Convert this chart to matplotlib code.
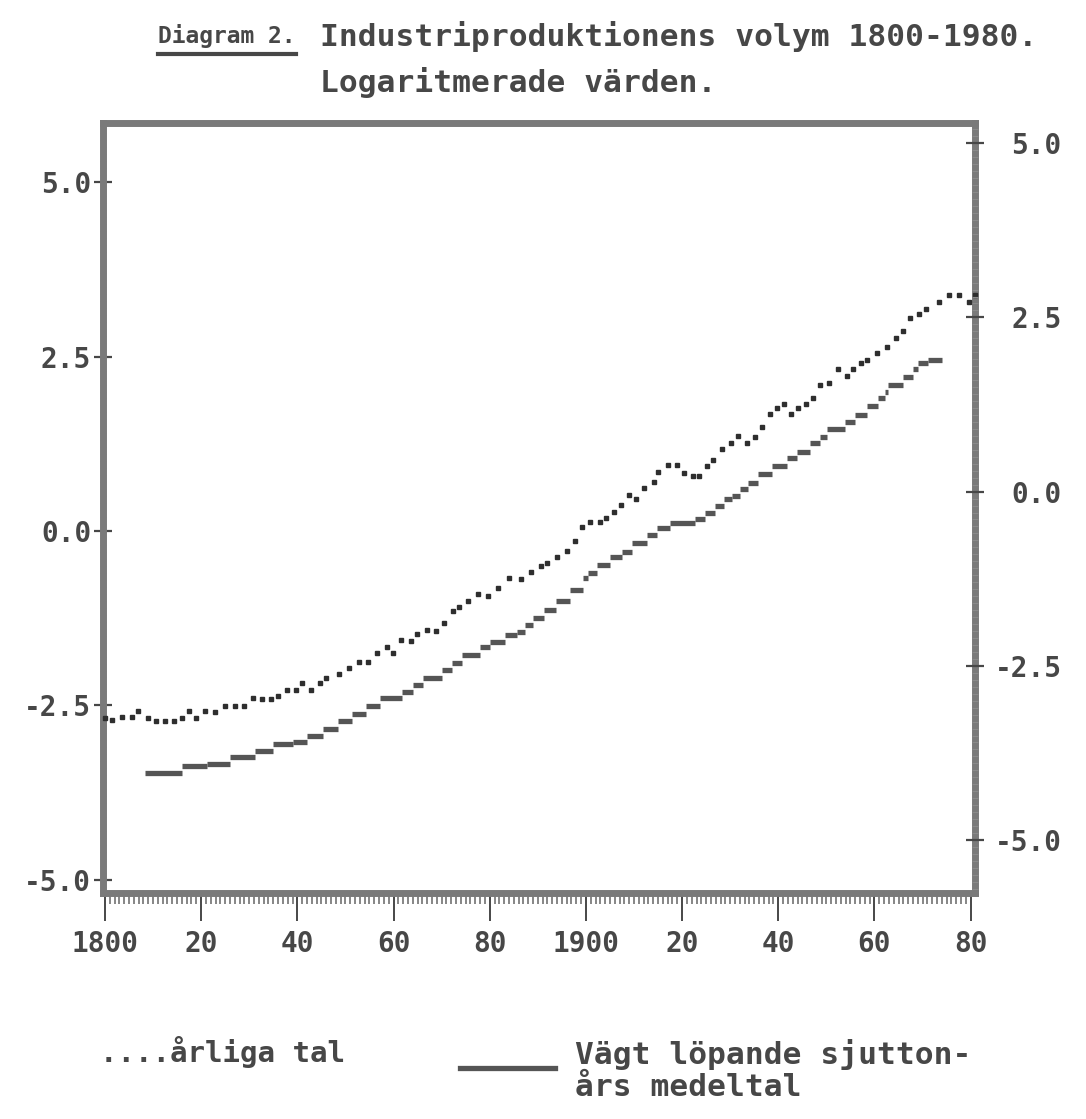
import matplotlib
matplotlib.use("Agg")
import matplotlib.pyplot as plt
from matplotlib.lines import Line2D
from matplotlib.ticker import FixedLocator, MultipleLocator

# Annual figures (dotted series), log values
years = [1800.0, 1801.5, 1803.5, 1805.6, 1806.9, 1808.9, 1810.6, 1812.5, 1814.3, 1816.0,
         1817.5, 1818.9, 1820.8, 1822.9, 1824.9, 1827.0, 1828.9, 1830.8, 1832.6, 1834.5,
         1836.0, 1837.8, 1839.7, 1841.0, 1842.8, 1844.7, 1845.9, 1848.6, 1850.7, 1852.8,
         1854.7, 1856.5, 1858.6, 1859.9, 1861.5, 1863.6, 1864.9, 1866.9, 1868.8, 1870.5,
         1872.3, 1873.6, 1875.5, 1877.5, 1879.6, 1881.7, 1884.0, 1886.5, 1888.6, 1890.6,
         1891.9, 1894.0, 1896.0, 1897.7, 1899.2, 1900.8, 1902.9, 1904.2, 1905.8, 1907.3,
         1908.9, 1910.4, 1912.1, 1914.1, 1915.0, 1917.0, 1918.9, 1920.4, 1922.2, 1923.5,
         1925.2, 1926.4, 1928.3, 1930.1, 1931.6, 1933.5, 1935.1, 1936.6, 1938.3, 1939.7,
         1941.2, 1942.6, 1944.1, 1945.7, 1947.2, 1948.6, 1950.5, 1952.4, 1954.3, 1955.5,
         1957.2, 1958.4, 1960.5, 1962.6, 1964.5, 1965.9, 1967.4, 1969.2, 1970.7, 1973.4,
         1975.5, 1977.5, 1979.6, 1980.9]
annual = [-2.68, -2.71, -2.66, -2.66, -2.58, -2.68, -2.72, -2.72, -2.72, -2.68,
          -2.58, -2.68, -2.58, -2.59, -2.51, -2.51, -2.51, -2.39, -2.41, -2.41,
          -2.36, -2.28, -2.28, -2.18, -2.28, -2.18, -2.11, -2.05, -1.96, -1.88,
          -1.88, -1.75, -1.66, -1.75, -1.56, -1.58, -1.48, -1.42, -1.43, -1.32,
          -1.15, -1.09, -1.00, -0.90, -0.93, -0.82, -0.67, -0.69, -0.59, -0.50,
          -0.46, -0.37, -0.29, -0.14, 0.06, 0.13, 0.13, 0.19, 0.27, 0.37,
          0.52, 0.46, 0.62, 0.70, 0.85, 0.95, 0.95, 0.83, 0.79, 0.79,
          0.93, 1.02, 1.18, 1.26, 1.36, 1.26, 1.35, 1.49, 1.68, 1.76,
          1.82, 1.68, 1.76, 1.82, 1.91, 2.09, 2.12, 2.32, 2.22, 2.32,
          2.41, 2.45, 2.55, 2.64, 2.77, 2.87, 3.05, 3.11, 3.19, 3.28,
          3.38, 3.38, 3.28, 3.38]

# Weighted 17-year moving average, printed as steps (step edges + level)
ma_edges = [1808.3, 1816.0, 1821.2, 1826.0, 1831.2, 1834.9, 1839.1, 1842.0, 1845.3, 1848.4,
            1851.4, 1854.3, 1857.2, 1861.7, 1864.0, 1866.1, 1870.1, 1872.1, 1874.2, 1878.0,
            1880.0, 1883.2, 1885.7, 1887.3, 1889.0, 1891.3, 1893.8, 1896.7, 1899.4, 1900.4,
            1902.3, 1905.0, 1907.5, 1909.6, 1912.7, 1914.8, 1917.5, 1922.7, 1924.7, 1926.8,
            1928.7, 1930.4, 1932.0, 1933.7, 1935.8, 1938.7, 1941.8, 1943.9, 1946.6, 1948.6,
            1950.1, 1953.8, 1955.9, 1958.4, 1960.7, 1962.2, 1962.8, 1965.9, 1968.0, 1969.0,
            1971.1, 1974.0]
ma_values = [-3.47, -3.37, -3.34, -3.24, -3.15, -3.05, -3.02, -2.94, -2.84, -2.72,
             -2.62, -2.51, -2.39, -2.31, -2.21, -2.11, -1.99, -1.89, -1.78, -1.66,
             -1.59, -1.49, -1.45, -1.35, -1.25, -1.13, -1.00, -0.85, -0.67, -0.60,
             -0.49, -0.37, -0.30, -0.17, -0.06, 0.04, 0.11, 0.17, 0.26, 0.36,
             0.46, 0.50, 0.60, 0.69, 0.82, 0.93, 1.05, 1.13, 1.26, 1.35,
             1.46, 1.56, 1.66, 1.79, 1.91, 1.99, 2.09, 2.21, 2.32, 2.41,
             2.45]

x_ticks = [1800, 1820, 1840, 1860, 1880, 1900, 1920, 1940, 1960, 1980]
x_labels = ["1800", "20", "40", "60", "80", "1900", "20", "40", "60", "80"]
y_ticks = [5.0, 2.5, 0.0, -2.5, -5.0]
y_labels = ["5.0", "2.5", "0.0", "-2.5", "-5.0"]

ink = "#474747"
frame = "#7a7a7a"
mono = "DejaVu Sans Mono"

W, H = 1086, 1119
fig = plt.figure(figsize=(W / 100, H / 100), dpi=100)
fig.patch.set_facecolor("white")
ax = fig.add_axes([103 / W, 1 - 893 / H, 872 / W, 770 / H])

ax.plot(years, annual, linestyle="none", marker="s", markersize=2.8,
        color="#2e2e2e", clip_on=False, zorder=3)
ax.hlines(ma_values, ma_edges[:-1], ma_edges[1:], color="#555555", linewidth=3.8, zorder=3)

ax.set_xlim(1799.6, 1980.9)
ax.set_ylim(-5.19, 5.85)

for s in ax.spines.values():
    s.set_linewidth(5)
    s.set_color(frame)

ax.xaxis.set_major_locator(FixedLocator(x_ticks))
ax.set_xticklabels(x_labels)
ax.xaxis.set_minor_locator(MultipleLocator(1))
ax.tick_params(axis="x", which="major", direction="out", length=20, width=1.4,
               color=ink, pad=7, labelsize=20, labelcolor=ink)
ax.tick_params(axis="x", which="minor", direction="out", length=8, width=1.1, color="#666666")

ax.yaxis.set_major_locator(FixedLocator(y_ticks))
ax.set_yticklabels(y_labels)
ax.yaxis.set_minor_locator(MultipleLocator(0.1))
ax.tick_params(axis="y", which="major", direction="inout", length=13, width=1.6,
               color=ink, pad=2, labelsize=20, labelcolor=ink)
ax.tick_params(axis="y", which="minor", direction="inout", length=5, width=0.8, color="#8a8a8a")

ax2 = ax.twinx()
ax2.set_ylim(-5.76, 5.29)
for s in ax2.spines.values():
    s.set_visible(False)
ax2.yaxis.set_major_locator(FixedLocator(y_ticks))
ax2.set_yticklabels(y_labels, ha="right")
ax2.yaxis.set_minor_locator(MultipleLocator(0.1))
ax2.tick_params(axis="y", which="major", direction="inout", length=13, width=1.6,
                color=ink, pad=56, labelsize=20, labelcolor=ink)
ax2.tick_params(axis="y", which="minor", direction="inout", length=5, width=0.8, color="#8a8a8a")

for lab in ax.get_xticklabels() + ax.get_yticklabels() + ax2.get_yticklabels():
    lab.set_family(mono)
    lab.set_fontweight("bold")

# Title
t0 = fig.text(158 / W, 1 - 36 / H, "Diagram 2.", family=mono, fontweight="bold",
              size=16.5, color=ink, va="center", ha="left")
fig.text(320 / W, 1 - 36 / H, "Industriproduktionens volym 1800-1980.", family=mono,
         fontweight="bold", size=22.5, color=ink, va="center", ha="left")
fig.text(320 / W, 1 - 82 / H, "Logaritmerade värden.", family=mono,
         fontweight="bold", size=22.5, color=ink, va="center", ha="left")

fig.canvas.draw()
bb = t0.get_window_extent().transformed(fig.transFigure.inverted())
fig.add_artist(Line2D([bb.x0, bb.x1], [bb.y0 - 6 / H, bb.y0 - 6 / H],
                      transform=fig.transFigure, color=ink, linewidth=3))

# Legend
fig.text(100 / W, 1 - 1052 / H, "....årliga tal", family=mono, fontweight="bold",
         size=21, color=ink, va="center", ha="left")
fig.add_artist(Line2D([460 / W, 555 / W], [1 - 1068 / H, 1 - 1068 / H],
                      transform=fig.transFigure, color="#555555", linewidth=3.8))
fig.text(575 / W, 1 - 1054 / H, "Vägt löpande sjutton-", family=mono, fontweight="bold",
         size=22.5, color=ink, va="center", ha="left")
fig.text(575 / W, 1 - 1088 / H, "års medeltal", family=mono, fontweight="bold",
         size=22.5, color=ink, va="center", ha="left")

fig.savefig("out.png", dpi=100)
